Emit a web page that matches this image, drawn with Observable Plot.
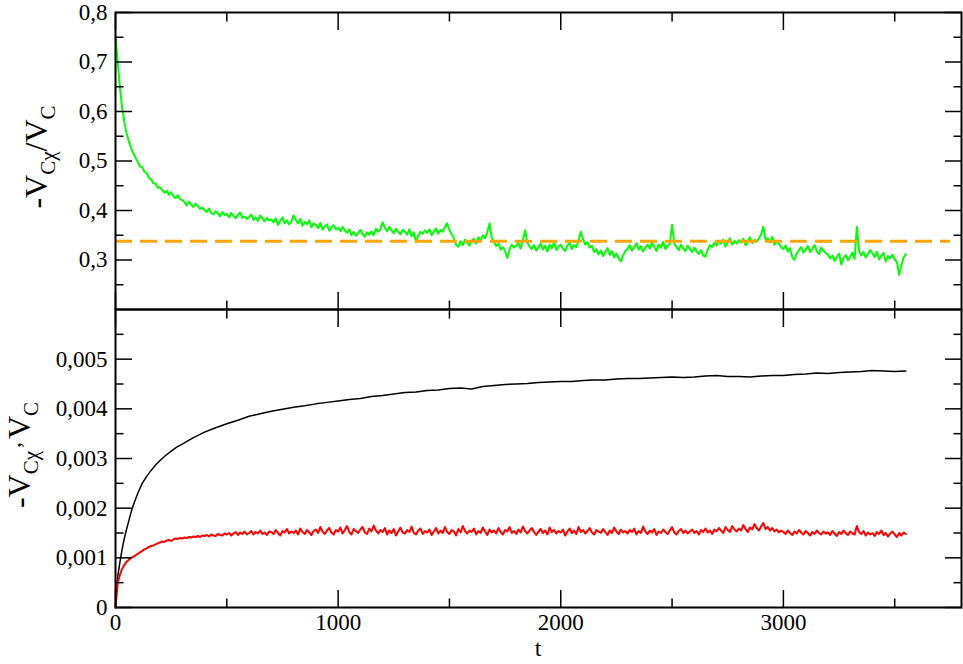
<!DOCTYPE html>
<html><head><meta charset="utf-8">
<script src="https://cdn.jsdelivr.net/npm/d3@7"></script>
<script src="https://cdn.jsdelivr.net/npm/@observablehq/plot@0.6"></script>
<style>
body{margin:0;background:#fff;}
#wrap{position:relative;width:963px;height:664px;overflow:hidden;font-family:"Liberation Serif","Times New Roman",Tinos,"DejaVu Serif",serif;color:#000;}
#wrap svg{position:absolute;left:0;}
.ylab{position:absolute;white-space:nowrap;font-size:32px;line-height:1;transform:translate(-50%,-50%) rotate(-90deg);}
.ylab sub{font-size:21px;vertical-align:-8px;line-height:0;}
.ylab .cm{font-size:24px;vertical-align:10px;line-height:0;margin:0 3px 0 3px;}
.xlab{position:absolute;font-size:24px;line-height:20px;height:20px;width:60px;margin-left:-30px;text-align:center;}
</style></head><body><div id="wrap"></div><script>
// ---- data ----
const tStep = 10; // sampling interval of green and red series (t units)
const greenRatio = [
.752,.700,.648,.607,.578,.556,.540,.527,.515,.507,
.498,.489,.488,.478,.476,.466,.463,.455,.454,.446,
.447,.441,.436,.440,.432,.437,.429,.425,.431,.423,
.421,.417,.410,.418,.412,.407,.414,.409,.403,.406,
.401,.397,.404,.395,.392,.399,.394,.388,.397,.391,
.393,.386,.395,.389,.384,.391,.396,.385,.388,.383,
.387,.392,.381,.386,.379,.390,.384,.378,.385,.380,
.382,.376,.384,.371,.379,.386,.374,.380,.372,.377,
.390,.381,.374,.383,.369,.377,.372,.380,.366,.374,
.371,.364,.375,.361,.368,.372,.359,.366,.370,.362,
.365,.358,.367,.360,.355,.362,.350,.357,.349,.354,
.361,.352,.347,.356,.351,.358,.350,.363,.357,.362,
.376,.365,.358,.367,.360,.354,.363,.357,.352,.361,
.358,.351,.362,.348,.356,.336,.349,.357,.353,.360,
.355,.362,.350,.358,.364,.353,.361,.357,.367,.374,
.360,.352,.344,.331,.327,.338,.330,.341,.335,.329,
.339,.343,.333,.346,.338,.350,.344,.356,.374,.345,
.337,.328,.333,.321,.326,.318,.304,.322,.331,.325,
.329,.334,.323,.341,.360,.335,.327,.322,.330,.319,
.326,.333,.321,.329,.317,.331,.324,.336,.320,.327,
.331,.323,.318,.329,.335,.322,.330,.326,.340,.357,
.342,.331,.336,.325,.329,.316,.322,.311,.319,.308,
.316,.324,.310,.318,.305,.313,.303,.297,.309,.318,
.322,.330,.319,.326,.334,.321,.328,.317,.325,.331,
.323,.336,.327,.318,.331,.325,.337,.322,.329,.333,
.371,.334,.326,.320,.331,.324,.318,.329,.323,.316,
.325,.318,.312,.320,.309,.307,.321,.330,.326,.335,
.329,.338,.333,.341,.327,.336,.344,.331,.339,.333,
.340,.335,.343,.330,.338,.346,.334,.341,.337,.344,
.352,.367,.340,.344,.336,.347,.331,.339,.333,.326,
.322,.329,.317,.324,.306,.300,.313,.320,.326,.315,
.321,.328,.316,.323,.330,.318,.312,.325,.319,.314,
.311,.303,.309,.298,.306,.313,.291,.304,.310,.300,
.306,.315,.302,.367,.318,.309,.316,.305,.312,.320,
.313,.306,.317,.301,.309,.314,.297,.308,.303,.311,
.301,.296,.270,.289,.305,.312];
const refValue = 0.338;          // orange dashed level
const refExtent = [0, 3750];     // t range of the dashed line
const redVcx = [
0,0.00050,0.00066,0.00078,0.00086,0.00092,0.00096,0.00100,0.00102,0.00105,
0.00108,0.00111,0.00114,0.00117,0.00119,0.00122,0.00124,0.00125,0.00127,0.00129,
0.00131,0.00133,0.00132,0.00135,0.00136,0.00134,0.00137,0.00139,0.00138,0.00140,
0.00139,0.00141,0.00140,0.00142,0.00141,0.00143,0.00142,0.00144,0.00142,0.00145,
0.00144,0.00146,0.00143,0.00147,0.00145,0.00144,0.00148,0.00146,0.00145,0.00149,
0.00147,0.00150,0.00145,0.00149,0.00152,0.00146,0.00151,0.00148,0.00153,0.00147,
0.00150,0.00154,0.00147,0.00152,0.00149,0.00155,0.00148,0.00151,0.00146,0.00153,
0.00152,0.00148,0.00156,0.00150,0.00145,0.00154,0.00151,0.00158,0.00149,0.00153,
0.00150,0.00155,0.00147,0.00159,0.00152,0.00148,0.00156,0.00151,0.00146,0.00154,
0.00157,0.00150,0.00162,0.00153,0.00148,0.00155,0.00160,0.00151,0.00147,0.00156,
0.00153,0.00161,0.00149,0.00156,0.00164,0.00152,0.00147,0.00158,0.00154,0.00150,
0.00157,0.00162,0.00151,0.00148,0.00159,0.00153,0.00165,0.00155,0.00149,0.00156,
0.00152,0.00160,0.00147,0.00155,0.00150,0.00158,0.00145,0.00153,0.00161,0.00151,
0.00149,0.00156,0.00152,0.00163,0.00150,0.00147,0.00155,0.00159,0.00148,0.00154,
0.00151,0.00157,0.00146,0.00153,0.00160,0.00149,0.00155,0.00150,0.00162,0.00152,
0.00148,0.00156,0.00153,0.00145,0.00158,0.00151,0.00164,0.00154,0.00149,0.00155,
0.00152,0.00159,0.00147,0.00154,0.00150,0.00161,0.00153,0.00146,0.00157,0.00151,
0.00155,0.00149,0.00160,0.00152,0.00147,0.00156,0.00153,0.00162,0.00150,0.00154,
0.00148,0.00157,0.00151,0.00163,0.00154,0.00149,0.00155,0.00160,0.00152,0.00146,
0.00153,0.00158,0.00150,0.00155,0.00147,0.00161,0.00152,0.00156,0.00149,0.00154,
0.00151,0.00157,0.00145,0.00153,0.00159,0.00150,0.00155,0.00148,0.00162,0.00152,
0.00156,0.00149,0.00154,0.00160,0.00151,0.00147,0.00156,0.00153,0.00150,0.00158,
0.00152,0.00146,0.00155,0.00150,0.00161,0.00153,0.00148,0.00157,0.00151,0.00154,
0.00149,0.00156,0.00152,0.00159,0.00147,0.00154,0.00150,0.00163,0.00153,0.00148,
0.00155,0.00151,0.00158,0.00146,0.00153,0.00150,0.00157,0.00152,0.00148,0.00155,
0.00162,0.00151,0.00147,0.00154,0.00158,0.00150,0.00155,0.00149,0.00153,0.00157,
0.00150,0.00154,0.00147,0.00156,0.00152,0.00159,0.00151,0.00155,0.00148,0.00157,
0.00153,0.00160,0.00155,0.00150,0.00162,0.00156,0.00152,0.00164,0.00157,0.00153,
0.00159,0.00155,0.00166,0.00158,0.00152,0.00161,0.00157,0.00168,0.00160,0.00155,
0.00163,0.00170,0.00158,0.00162,0.00155,0.00160,0.00153,0.00157,0.00151,0.00155,
0.00152,0.00148,0.00155,0.00150,0.00146,0.00153,0.00149,0.00156,0.00151,0.00147,
0.00154,0.00150,0.00145,0.00152,0.00148,0.00155,0.00150,0.00147,0.00153,0.00149,
0.00151,0.00146,0.00154,0.00149,0.00144,0.00152,0.00148,0.00155,0.00150,0.00146,
0.00153,0.00149,0.00147,0.00164,0.00152,0.00148,0.00154,0.00145,0.00151,0.00147,
0.00150,0.00144,0.00152,0.00148,0.00155,0.00146,0.00150,0.00143,0.00149,0.00153,
0.00147,0.00142,0.00150,0.00145,0.00151,0.00148];
const blackT = [0,5,10,20,30,40,50,60,70,80,90,100,120,140,160,180,200,225,250,275,300,
350,400,450,500,550,600,650,700,750,800,850,900,950,
1000,1050,1100,1150,1200,1250,1300,1350,1400,1450,1500,1550,1600,1650,1700,1750,
1800,1850,1900,1950,2000,2050,2100,2150,2200,2250,2300,2350,2400,2450,2500,2550,
2600,2650,2700,2750,2800,2850,2900,2950,3000,3050,3100,3150,3200,3250,3300,3350,
3400,3450,3500,3550];
const blackVc = [0,0.00040,0.00062,0.00092,0.00118,0.00140,0.00158,0.00175,0.00192,0.00206,0.00218,0.00230,
0.00250,0.00264,0.00276,0.00287,0.00296,0.00306,0.00315,0.00323,0.00329,
0.00342,0.00353,0.00362,0.00370,0.00377,0.00385,0.00390,0.00395,0.00399,0.00403,0.00406,0.00410,0.00413,
0.00416,0.00419,0.00421,0.00425,0.00427,0.00430,0.00433,0.00434,0.00437,0.00438,
0.00441,0.00442,0.00440,0.00445,0.00447,0.00449,0.00450,0.00451,0.00453,0.00454,
0.00455,0.00455,0.00457,0.00458,0.00458,0.00460,0.00461,0.00461,0.00462,0.00463,
0.00464,0.00463,0.00464,0.00466,0.00467,0.00465,0.00465,0.00464,0.00466,0.00467,
0.00467,0.00469,0.00470,0.00472,0.00471,0.00473,0.00474,0.00475,0.00477,0.00476,
0.00475,0.00476];
const xDomain = [0, 3800];
const xMajor = [0, 1000, 2000, 3000];
const xMinor = [500, 1500, 2500, 3500];
const xLabels = ["0", "1000", "2000", "3000"];
const yTopDomain = [0.2, 0.8];
const yTopMajor = [0.3, 0.4, 0.5, 0.6, 0.7, 0.8];
const yTopMinor = [0.25, 0.35, 0.45, 0.55, 0.65, 0.75];
const yTopLabels = ["0,3", "0,4", "0,5", "0,6", "0,7", "0,8"];
const yBotDomain = [0, 0.006];
const yBotMajor = [0, 0.001, 0.002, 0.003, 0.004, 0.005];
const yBotMinor = [0.0005, 0.0015, 0.0025, 0.0035, 0.0045, 0.0055];
const yBotLabels = ["0", "0,001", "0,002", "0,003", "0,004", "0,005"];

// ---- helpers ----
const MAJ = 17, MIN = 8.5;
function inTicks(dim, anchor, values, size) {
  const A = dim === "x" ? Plot.axisX : Plot.axisY;
  return A({ticks: values, anchor, tickSize: -size, tickFormat: () => "", strokeWidth: 1.5, label: null});
}
function tickSet(xMaj, xMin, yMaj, yMin) {
  return [
    inTicks("y", "left", yMaj, MAJ), inTicks("y", "left", yMin, MIN),
    inTicks("y", "right", yMaj, MAJ), inTicks("y", "right", yMin, MIN),
    inTicks("x", "top", xMaj, MAJ), inTicks("x", "top", xMin, MIN),
    inTicks("x", "bottom", xMaj, MAJ), inTicks("x", "bottom", xMin, MIN)
  ];
}
const plotStyle = {fontFamily: "'Liberation Serif','Times New Roman',Tinos,'DejaVu Serif',serif", fontSize: "23px", background: "transparent", overflow: "visible", color: "black"};

const wrap = document.getElementById("wrap");

// ---- top panel ----
const topPlot = Plot.plot({
  width: 963, height: 310, marginTop: 12, marginBottom: 1, marginLeft: 115, marginRight: 2,
  style: plotStyle,
  x: {domain: xDomain},
  y: {domain: yTopDomain},
  marks: [
    Plot.line(greenRatio, {x: (d, i) => i * tStep, y: d => d, stroke: "#00ff00", strokeWidth: 2}),
    Plot.ruleY([refValue], {y: d => d, x1: refExtent[0], x2: refExtent[1], stroke: "#ffa500", strokeWidth: 3, strokeDasharray: "17,8"}),
    ...tickSet(xMajor, xMinor, yTopMajor, yTopMinor),
    Plot.axisY({ticks: yTopMajor, anchor: "left", tickSize: 0, tickPadding: 8, tickFormat: d => yTopLabels[yTopMajor.indexOf(d)], label: null}),
    Plot.frame({stroke: "black", strokeWidth: 2})
  ]
});
topPlot.style.top = "0px";
wrap.appendChild(topPlot);

// ---- bottom panel ----
const botPlot = Plot.plot({
  width: 963, height: 365, marginTop: 10, marginBottom: 57, marginLeft: 115, marginRight: 2,
  style: plotStyle,
  x: {domain: xDomain},
  y: {domain: yBotDomain},
  marks: [
    Plot.line(blackVc, {x: (d, i) => blackT[i], y: d => d, stroke: "black", strokeWidth: 1.5}),
    Plot.line(redVcx, {x: (d, i) => i * tStep, y: d => d, stroke: "#ff0000", strokeWidth: 2}),
    ...tickSet(xMajor, xMinor, yBotMajor, yBotMinor),
    Plot.axisY({ticks: yBotMajor, anchor: "left", tickSize: 0, tickPadding: 8, tickFormat: d => yBotLabels[yBotMajor.indexOf(d)], label: null}),
    Plot.axisX({ticks: xMajor, anchor: "bottom", tickSize: 0, tickPadding: 6, tickFormat: d => xLabels[xMajor.indexOf(d)], label: null}),
    Plot.frame({stroke: "black", strokeWidth: 2})
  ]
});
botPlot.style.top = "299px";
wrap.appendChild(botPlot);

// ---- axis titles ----
const l1 = document.createElement("div");
l1.className = "ylab";
l1.style.left = "36px"; l1.style.top = "157px";
l1.innerHTML = "-V<sub>Cχ</sub>/V<sub>C</sub>";
wrap.appendChild(l1);

const l2 = document.createElement("div");
l2.className = "ylab";
l2.style.left = "19px"; l2.style.top = "455px";
l2.innerHTML = "-V<sub>Cχ</sub><span class=\"cm\">,</span>V<sub>C</sub>";
wrap.appendChild(l2);

const lx = document.createElement("div");
lx.className = "xlab";
lx.style.left = "538px"; lx.style.top = "638px";
lx.textContent = "t";
wrap.appendChild(lx);
</script></body></html>
